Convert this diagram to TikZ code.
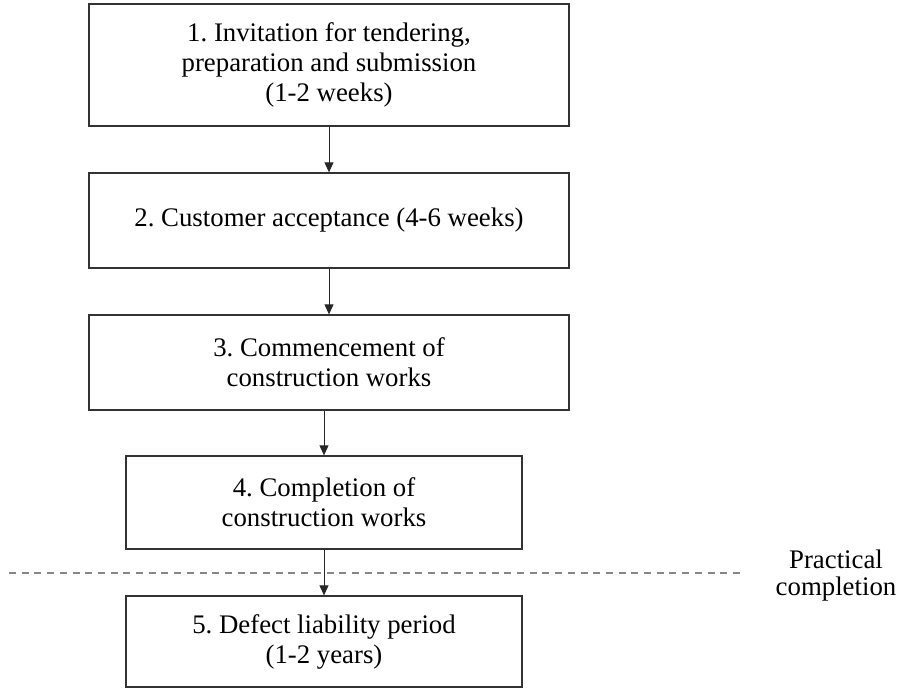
\documentclass[tikz,border=0pt]{standalone}
\usepackage{fontspec}
\setmainfont{Liberation Serif}
\usetikzlibrary{arrows.meta}
\frenchspacing
\begin{document}
\begin{tikzpicture}[x=1pt, y=-1pt,
  stage/.style={draw=black!80, line width=1.3pt, align=center, inner sep=0pt, font=\fontsize{26.8}{30}\selectfont},
  widestage/.style={stage, minimum width=480pt},
  narrowstage/.style={stage, minimum width=396pt},
  flow/.style={-{Triangle[width=9pt,length=10pt]}, line width=0.9pt, black!85}]
\useasboundingbox (0,0) rectangle (898,688);
\node [widestage, minimum height=122pt] (invite) at (329,65) {1. Invitation for tendering,\\preparation and submission\\(1-2 weeks)};
\node [widestage, minimum height=95pt] (accept) at (329,220.5) {2. Customer acceptance (4-6 weeks)};
\node [widestage, minimum height=95pt] (commence) at (329,362.5) {3. Commencement of\\construction works};
\node [narrowstage, minimum height=93pt] (complete) at (324,502.5) {4. Completion of\\construction works};
\node [narrowstage, minimum height=91pt] (defect) at (324,641.5) {5. Defect liability period\\(1-2 years)};
\draw [gray!95, line width=1.5pt, dash pattern=on 7pt off 5.7pt] (9,573) -- (745,573);
\node [align=center, inner sep=0pt, font=\fontsize{26.8}{27}\selectfont] (practical) at (836,576) {Practical\\completion};
\draw [flow] (invite) -- (accept);
\draw [flow] (accept) -- (commence);
\draw [flow] (complete.north |- commence.south) -- (complete.north);
\draw [flow] (complete) -- (defect);
\end{tikzpicture}
\end{document}
